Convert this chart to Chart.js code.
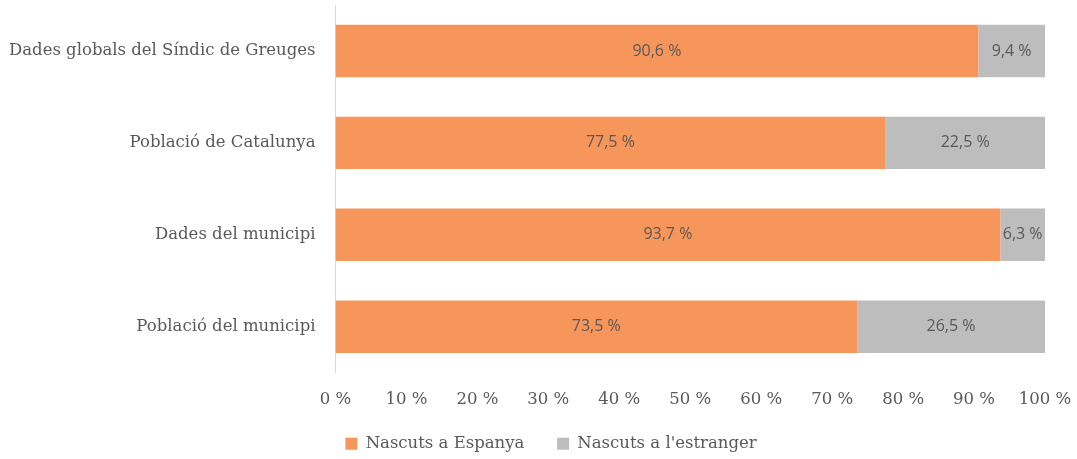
<!DOCTYPE html>
<html lang="ca">
<head>
<meta charset="UTF-8" />
<title>Nascuts a Espanya / a l'estranger</title>
<script src="https://cdn.jsdelivr.net/npm/chart.js"></script>
<style>
  body { margin: 0; background: #fff; }
  #wrap { width: 1077px; height: 459px; position: relative; }
</style>
</head>
<body>
<div id="wrap"><canvas id="barChart"></canvas></div>
<script>
// data
var categories = [
  "Dades globals del Síndic de Greuges",
  "Població de Catalunya",
  "Dades del municipi",
  "Població del municipi"
];
var nascutsEspanya = [90.6, 77.5, 93.7, 73.5];
var nascutsEstranger = [9.4, 22.5, 6.3, 26.5];
var seriesNames = ["Nascuts a Espanya", "Nascuts a l'estranger"];

var slab = "'DejaVu Serif', serif";
var textGrey = '#595959';

function pct(v) {
  return v.toFixed(1).replace('.', ',') + ' %';
}

// draws the value in the middle of each bar segment
var barLabels = {
  id: 'barLabels',
  afterDatasetsDraw: function (chart) {
    var ctx = chart.ctx;
    ctx.save();
    ctx.font = "16px 'Open Sans', sans-serif";
    ctx.fillStyle = textGrey;
    ctx.textAlign = 'center';
    ctx.textBaseline = 'middle';
    chart.data.datasets.forEach(function (ds, i) {
      chart.getDatasetMeta(i).data.forEach(function (bar, j) {
        var x = (bar.x + bar.base) / 2;
        ctx.fillText(pct(ds.data[j]), x, bar.y);
      });
    });
    ctx.restore();
  }
};

// legend sits a bit right of the canvas centre in the original
var legendShift = {
  id: 'legendShift',
  afterLayout: function (chart) {
    if (chart.legend) {
      chart.legend.left += 30;
      chart.legend.right += 30;
    }
  }
};

new Chart(document.getElementById('barChart'), {
  type: 'bar',
  data: {
    labels: categories,
    datasets: [
      { label: seriesNames[0], data: nascutsEspanya, backgroundColor: '#F7965A' },
      { label: seriesNames[1], data: nascutsEstranger, backgroundColor: '#BDBDBD' }
    ]
  },
  options: {
    indexAxis: 'y',
    responsive: true,
    maintainAspectRatio: false,
    animation: false,
    categoryPercentage: 1,
    barPercentage: 0.57,
    layout: { padding: { top: 5, right: 32, left: -3, bottom: -3 } },
    scales: {
      x: {
        stacked: true,
        min: 0,
        max: 100,
        grid: { display: false },
        border: { display: false },
        afterFit: function (s) { s.paddingRight = 0; },
        ticks: {
          stepSize: 10,
          padding: 9,
          color: textGrey,
          font: { family: slab, size: 16.5 },
          callback: function (v) { return v + ' %'; }
        }
      },
      y: {
        stacked: true,
        grid: { display: false },
        border: { display: true, color: '#D9D9D9', width: 1 },
        afterFit: function (s) { s.paddingTop = 0; s.paddingBottom = 0; },
        ticks: {
          padding: 12,
          color: textGrey,
          font: { family: slab, size: 16.5 }
        }
      }
    },
    plugins: {
      tooltip: { enabled: false },
      legend: {
        position: 'bottom',
        labels: {
          boxWidth: 12,
          boxHeight: 12,
          padding: 17,
          color: textGrey,
          font: { family: slab, size: 16.5 },
          // a little extra room between the two legend entries
          generateLabels: function (chart) {
            var items = Chart.defaults.plugins.legend.labels.generateLabels(chart);
            items[0].text += '   ';
            return items;
          }
        }
      }
    }
  },
  plugins: [barLabels, legendShift]
});
</script>
</body>
</html>
